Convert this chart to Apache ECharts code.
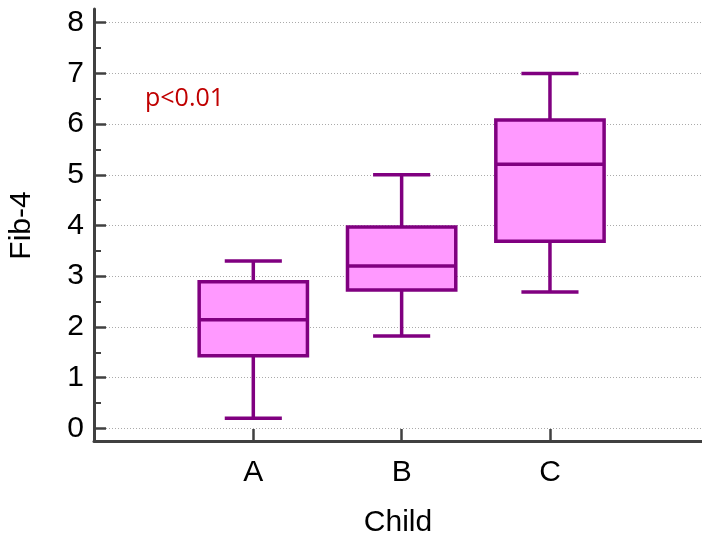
<!DOCTYPE html>
<html>
<head>
<meta charset="utf-8">
<script src="https://cdn.jsdelivr.net/npm/echarts@6/dist/echarts.min.js"></script>
<style>
  html, body { margin: 0; padding: 0; background: #fff; }
  #chart { width: 702px; height: 539px; }
</style>
</head>
<body>
<div id="chart"></div>
<script>
// 数据
const categories = ['A', 'B', 'C'];
const lowValues = [0.2, 1.82, 2.69];
const q1Values = [1.43, 2.73, 3.69];
const medianValues = [2.14, 3.2, 5.21];
const q3Values = [2.89, 3.97, 6.08];
const highValues = [3.3, 5.0, 7.0];
const yTicks = [0, 1, 2, 3, 4, 5, 6, 7, 8];

(function() {
    let myChart = echarts.init(document.getElementById('chart'))
    let boxData = categories.map((c, i) => [i + 1, lowValues[i], q1Values[i], medianValues[i], q3Values[i], highValues[i]])
    let purple = '#800080'
    let axisColor = '#404040'
    let font = 'Liberation Sans, Arial, sans-serif'

    let option = {
        animation: false,
        grid: [
            { left: 94, right: 0, top: 22.7, bottom: 110.7, containLabel: false, outerBoundsMode: 'none' },
            { left: 94, right: 0, top: 9, bottom: 98, containLabel: false, outerBoundsMode: 'none' }
        ],
        xAxis: [{
            gridIndex: 0,
            type: 'value',
            min: -0.074,
            max: 4.025,
            offset: 12.7,
            name: 'Child',
            nameLocation: 'middle',
            nameGap: 67,
            nameTextStyle: { fontSize: 30, color: '#000', fontFamily: font },
            axisLine: { show: true, onZero: false, lineStyle: { color: axisColor, width: 3 } },
            axisTick: { show: true, inside: true, length: 12, customValues: [1, 2, 3], lineStyle: { color: axisColor, width: 2.5 } },
            axisLabel: {
                customValues: [1, 2, 3],
                formatter: v => categories[Math.round(v) - 1] || '',
                fontSize: 30, color: '#000', fontFamily: font, margin: 17
            },
            splitLine: { show: false }
        }, {
            gridIndex: 1,
            type: 'value',
            show: false
        }],
        yAxis: [{
            gridIndex: 0,
            type: 'value',
            min: yTicks[0],
            max: yTicks[yTicks.length - 1],
            interval: 1,
            name: 'Fib-4',
            nameLocation: 'middle',
            nameGap: 57,
            nameTextStyle: { fontSize: 30, color: '#000', fontFamily: font },
            axisLine: { show: false, onZero: false },
            axisTick: { show: true, inside: true, length: 12, lineStyle: { color: axisColor, width: 2.5 } },
            minorTick: { show: true, splitNumber: 2, length: 7, lineStyle: { color: axisColor, width: 2 } },
            axisLabel: { fontSize: 30, color: '#000', fontFamily: font, margin: 10 },
            splitLine: { show: true, lineStyle: { color: '#aaa', width: 1, type: [1, 2] } }
        }, {
            gridIndex: 1,
            type: 'value',
            min: 0,
            max: 1,
            axisLine: { show: true, onZero: false, lineStyle: { color: axisColor, width: 3 } },
            axisTick: { show: false },
            axisLabel: { show: false },
            splitLine: { show: false }
        }],
        graphic: [{
            type: 'text',
            left: 145,
            top: 86,
            style: { text: 'p<0.01', font: '25px "Open Sans"', fill: '#c00000' }
        }],
        series: [{
            type: 'custom',
            xAxisIndex: 0,
            yAxisIndex: 0,
            data: boxData,
            encode: { x: 0, y: [1, 2, 3, 4, 5] },
            renderItem: function(params, api) {
                let x = api.value(0)
                let lo = api.coord([x, api.value(1)])
                let q1 = api.coord([x, api.value(2)])
                let med = api.coord([x, api.value(3)])
                let q3 = api.coord([x, api.value(4)])
                let hi = api.coord([x, api.value(5)])
                let unit = api.size([1, 0])[0]
                let bw = unit * 0.73
                let cw = unit * 0.385
                let cx = lo[0]
                let ls = { stroke: purple, lineWidth: 3.5 }
                return {
                    type: 'group',
                    children: [
                        { type: 'line', shape: { x1: cx, y1: lo[1], x2: cx, y2: q1[1] }, style: ls },
                        { type: 'line', shape: { x1: cx, y1: q3[1], x2: cx, y2: hi[1] }, style: ls },
                        { type: 'line', shape: { x1: cx - cw / 2, y1: lo[1], x2: cx + cw / 2, y2: lo[1] }, style: ls },
                        { type: 'line', shape: { x1: cx - cw / 2, y1: hi[1], x2: cx + cw / 2, y2: hi[1] }, style: ls },
                        { type: 'rect', shape: { x: cx - bw / 2, y: q3[1], width: bw, height: q1[1] - q3[1] }, style: { fill: '#ff99ff', stroke: purple, lineWidth: 3.5 } },
                        { type: 'line', shape: { x1: cx - bw / 2, y1: med[1], x2: cx + bw / 2, y2: med[1] }, style: ls }
                    ]
                }
            }
        }]
    }
    myChart.setOption(option)
})();
</script>
</body>
</html>
